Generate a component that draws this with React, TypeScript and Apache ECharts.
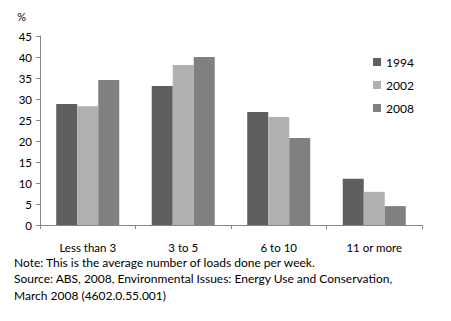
import React, { useEffect, useRef } from "react";
import * as echarts from "echarts";

const categories = ["Less than 3", "3 to 5", "6 to 10", "11 or more"];
const seriesNames = ["1994", "2002", "2008"];
const values1994 = [28.8, 33.1, 26.9, 11.0];
const values2002 = [28.3, 38.1, 25.7, 7.9];
const values2008 = [34.5, 40.0, 20.7, 4.5];
const colors = ["#5f5f5f", "#b0b0b0", "#808080"];
const noteLines = [
  "Note: This is the average number of loads done per week.",
  "Source: ABS, 2008, Environmental Issues: Energy Use and Conservation,",
  "March 2008 (4602.0.55.001)",
];

const FONT = "Lato, 'Open Sans', sans-serif";

export default function App() {
  const ref = useRef<HTMLDivElement>(null);
  useEffect(() => {
    if (!ref.current) return;
    const chart = echarts.init(ref.current, undefined, { renderer: "svg" });
    const data = [values1994, values2002, values2008];
    chart.setOption({
      animation: false,
      textStyle: { fontFamily: FONT, fontSize: 11, color: "#000" },
      grid: { left: 40, right: 29, top: 36, bottom: 96 },
      legend: {
        data: seriesNames,
        orient: "vertical",
        left: 368,
        top: 51,
        itemWidth: 8,
        itemHeight: 8,
        itemGap: 11,
        icon: "rect",
        textStyle: { fontFamily: FONT, fontSize: 12, color: "#000" },
      },
      xAxis: {
        type: "category",
        data: categories,
        axisLine: { lineStyle: { color: "#868686" } },
        axisTick: { show: true, interval: 0, length: 4, lineStyle: { color: "#868686" } },
        axisLabel: { margin: 16, color: "#000", fontFamily: FONT, fontSize: 11.5, interval: 0 },
      },
      yAxis: {
        type: "value",
        min: 0,
        max: 45,
        interval: 5,
        name: "%",
        nameLocation: "end",
        nameGap: 14,
        nameTextStyle: { color: "#000", fontFamily: FONT, fontSize: 11, align: "right", padding: [0, 14, 0, 0] },
        axisLine: { show: true, lineStyle: { color: "#868686" } },
        axisTick: { show: true, length: 4, lineStyle: { color: "#868686" } },
        splitLine: { show: false },
        axisLabel: { margin: 8, color: "#000", fontFamily: FONT, fontSize: 11.5 },
      },
      series: seriesNames.map((name, i) => ({
        name,
        type: "bar",
        data: data[i],
        barGap: "0%",
        barCategoryGap: "34%",
        itemStyle: { color: colors[i] },
      })),
      graphic: noteLines.map((t, i) => ({
        type: "text",
        left: 14,
        top: 256 + i * 16.5,
        style: { text: t, fill: "#000", font: `12px ${FONT}` },
      })),
    });
    return () => chart.dispose();
  }, []);
  return <div ref={ref} style={{ width: 451, height: 321, position: "absolute", left: 0, top: 0 }} />;
}
